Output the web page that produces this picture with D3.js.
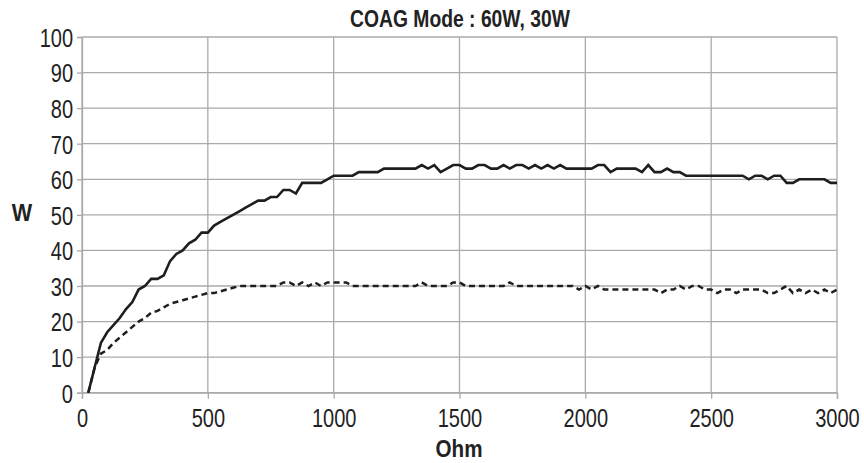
<!DOCTYPE html>
<html>
<head>
<meta charset="utf-8">
<script src="https://cdn.jsdelivr.net/npm/d3@7"></script>
<style>
  html, body { margin: 0; padding: 0; background: #fff; }
  svg { display: block; }
  text { font-family: "Liberation Sans", Arial, sans-serif; fill: #222; }
</style>
</head>
<body>
<svg id="chart" width="864" height="463"></svg>
<script>
// ---- data ----
const ohm = d3.range(25, 3001, 25);
const watts60 = [
  0, 7, 14, 17, 19, 21, 23.5, 25.5, 29, 30, 32, 32, 33, 37, 39, 40, 42, 43, 45, 45,          // 25-500
  47, 48, 49, 50, 51, 52, 53, 54, 54, 55, 55, 57, 57, 56, 59, 59, 59, 59, 60, 61,          // 525-1000
  61, 61, 61, 62, 62, 62, 62, 63, 63, 63, 63, 63, 63, 64, 63, 64, 62, 63, 64, 64,          // 1025-1500
  63, 63, 64, 64, 63, 63, 64, 63, 64, 64, 63, 64, 63, 64, 63, 64, 63, 63, 63, 63,          // 1525-2000
  63, 64, 64, 62, 63, 63, 63, 63, 62, 64, 62, 62, 63, 62, 62, 61, 61, 61, 61, 61,          // 2025-2500
  61, 61, 61, 61, 61, 60, 61, 61, 60, 61, 61, 59, 59, 60, 60, 60, 60, 60, 59, 59           // 2525-3000
];
const watts30 = [
  0, 7, 11, 12, 14, 15.5, 17, 18.5, 20, 21, 22.5, 23, 24, 25, 25.5, 26, 26.5, 27, 27.5, 28, // 25-500
  28, 28.5, 29, 29.5, 30, 30, 30, 30, 30, 30, 30, 31, 31, 30, 31, 30, 31, 30, 31, 31,      // 525-1000
  31, 31, 30, 30, 30, 30, 30, 30, 30, 30, 30, 30, 30, 31, 30, 30, 30, 30, 31, 31,          // 1025-1500
  30, 30, 30, 30, 30, 30, 30, 31, 30, 30, 30, 30, 30, 30, 30, 30, 30, 30, 29, 30,          // 1525-2000
  29, 30, 29, 29, 29, 29, 29, 29, 29, 29, 29, 28, 29, 29, 30, 29, 30, 30, 29, 29,          // 2025-2500
  28, 29, 29, 28, 29, 29, 29, 29, 28, 28, 29, 30, 28, 29, 28, 29, 28, 29, 28, 29           // 2525-3000
];
const xTicks = [0, 500, 1000, 1500, 2000, 2500, 3000];
const yTicks = [0, 10, 20, 30, 40, 50, 60, 70, 80, 90, 100];
const titleText = "COAG Mode : 60W, 30W";
const xLabel = "Ohm";
const yLabel = "W";

// ---- layout ----
const svg = d3.select("#chart");
const plotL = 82, plotR = 837, plotT = 37, plotB = 392.7;
const x = d3.scaleLinear().domain([0, 3000]).range([plotL, plotR]);
const y = d3.scaleLinear().domain([0, 100]).range([plotB, plotT]);

const gridColor = "#aaaaaa";
const sx = 0.77; // horizontal condensing of the tick font

// gridlines
svg.append("g").selectAll("line").data(yTicks).join("line")
  .attr("x1", plotL).attr("x2", plotR)
  .attr("y1", d => y(d)).attr("y2", d => y(d))
  .attr("stroke", gridColor).attr("stroke-width", 1.3);
svg.append("g").selectAll("line").data(xTicks).join("line")
  .attr("x1", d => x(d)).attr("x2", d => x(d))
  .attr("y1", plotT).attr("y2", plotB)
  .attr("stroke", gridColor).attr("stroke-width", 1.3);

// axes
const xAxis = svg.append("g").attr("transform", `translate(0,${plotB})`)
  .call(d3.axisBottom(x).tickValues(xTicks).tickSize(6).tickPadding(10).tickFormat(d3.format("d")));
const yAxis = svg.append("g").attr("transform", `translate(${plotL},0)`)
  .call(d3.axisLeft(y).tickValues(yTicks).tickSize(5).tickPadding(4).tickFormat(d3.format("d")));
[xAxis, yAxis].forEach(g => {
  g.select(".domain").attr("stroke", gridColor).attr("stroke-width", 1.3);
  g.selectAll(".tick line").attr("stroke", gridColor).attr("stroke-width", 1.3);
  g.selectAll(".tick text").attr("font-size", 26).attr("fill", "#1a1a1a")
    .style("font-family", '"Liberation Sans", Arial, sans-serif')
    .attr("transform", `scale(${sx},1)`);
});
xAxis.selectAll(".tick text").attr("dy", "0.72em");
yAxis.selectAll(".tick text").attr("dy", "0.36em").attr("x", -9 / sx);

// lines
const line = d3.line().x((d, i) => x(ohm[i])).y(d => y(d));
svg.append("path").datum(watts30)
  .attr("d", line).attr("fill", "none")
  .attr("stroke", "#1e1e1e").attr("stroke-width", 2.5)
  .attr("stroke-dasharray", "6,4");
svg.append("path").datum(watts60)
  .attr("d", line).attr("fill", "none")
  .attr("stroke", "#1e1e1e").attr("stroke-width", 2.6)
  .attr("stroke-linejoin", "miter");

// labels (condensed via horizontal scale)
function label(txt, cx, by, size, scale) {
  svg.append("text")
    .attr("transform", `translate(${cx},${by}) scale(${scale},1)`)
    .attr("text-anchor", "middle").attr("font-size", size).attr("font-weight", "bold")
    .text(txt);
}
label(titleText, 460, 27, 23, 0.84);
label(xLabel, 459, 457, 24, 0.86);
label(yLabel, 22, 221, 24, 0.9);
</script>
</body>
</html>
